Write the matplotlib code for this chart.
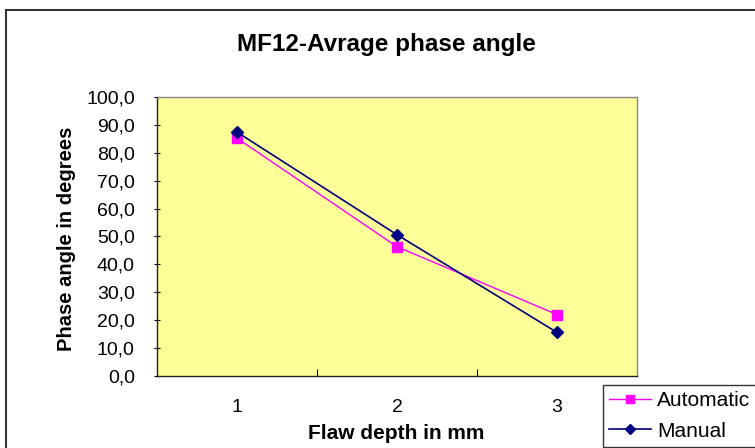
import numpy as np
import matplotlib
matplotlib.use("Agg")
import matplotlib.pyplot as plt
from matplotlib.patches import Rectangle
from matplotlib.ticker import FuncFormatter, FixedLocator

plt.rcParams["font.family"] = ["Liberation Sans", "DejaVu Sans"]

depths = [1, 2, 3]
automatic = [85.3, 46.3, 21.9]
manual = [87.5, 50.6, 15.5]

fig = plt.figure(figsize=(7.55, 4.48), dpi=100)

# outer chart border (cut off at right and bottom like the reference)
fig.patches.append(Rectangle((6 / 755, -0.05), 1.2, (438 / 448) + 0.05,
                             transform=fig.transFigure, fill=False,
                             edgecolor="#333333", linewidth=1.5))

ax = fig.add_axes([157 / 755, 1 - 375.5 / 448, 480 / 755, 278.2 / 448])
ax.set_facecolor("#FFFF99")

ax.plot(depths, automatic, color="#FF00FF", marker="s", markersize=6.5,
        linewidth=1.0, label="Automatic")
ax.plot(depths, manual, color="#000080", marker="D", markersize=6,
        linewidth=1.2, label="Manual")

ax.set_xlim(0.5, 3.5)
ax.set_ylim(0, 100)
ax.set_yticks(np.arange(0, 101, 10))
ax.yaxis.set_major_formatter(FuncFormatter(lambda v, p: f"{v:.1f}".replace(".", ",")))
ax.xaxis.set_major_locator(FixedLocator([1.5, 2.5]))
ax.xaxis.set_minor_locator(FixedLocator(depths))
ax.set_xticklabels(["", ""])
ax.set_xticklabels([str(d) for d in depths], minor=True)
ax.tick_params(axis="x", which="minor", length=0, labelsize=14, pad=17)
ax.tick_params(axis="x", which="major", length=5, direction="in", width=0.8)
ax.tick_params(axis="y", which="major", length=4, direction="inout", width=0.8,
               labelsize=14, pad=14)

for side in ["top", "right"]:
    ax.spines[side].set_color("#888888")
    ax.spines[side].set_linewidth(1.0)
for side in ["left", "bottom"]:
    ax.spines[side].set_color("#222222")
    ax.spines[side].set_linewidth(1.0)

fig.text(386 / 755, 1 - 44 / 448, "MF12-Avrage phase angle", ha="center",
         va="center", fontsize=17.5, fontweight="bold")
fig.text(67 / 755, 1 - 239 / 448, "Phase angle in degrees", ha="center",
         va="center", rotation=90, fontsize=14.5, fontweight="bold")
fig.text(396 / 755, 1 - 433 / 448, "Flaw depth in mm", ha="center",
         va="center", fontsize=15, fontweight="bold")

leg = fig.legend(loc="lower left", bbox_to_anchor=(603 / 755, 1 - 447 / 448),
                 frameon=True, fancybox=False, fontsize=15, handlelength=2.0,
                 handletextpad=0.3, borderpad=0.3, labelspacing=0.55,
                 borderaxespad=0, markerscale=0.85)
leg.get_frame().set_edgecolor("black")
leg.get_frame().set_linewidth(1.0)

fig.savefig("out.png", dpi=100)
